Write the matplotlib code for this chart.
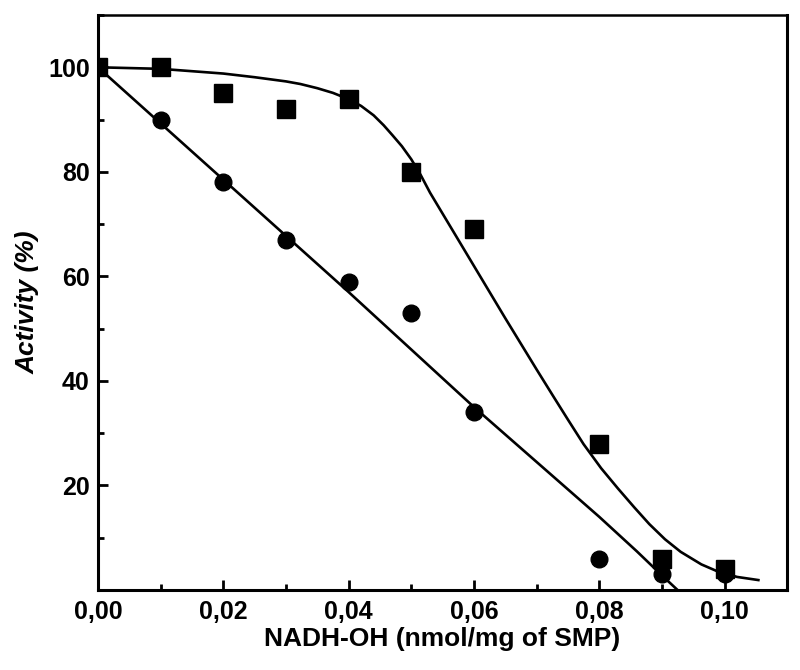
import matplotlib.pyplot as plt
from matplotlib.ticker import MultipleLocator, FuncFormatter

plt.rcParams["font.family"] = ["Liberation Sans", "DejaVu Sans"]
plt.rcParams["font.weight"] = "bold"

# measured points
conc = [0.0, 0.01, 0.02, 0.03, 0.04, 0.05, 0.06, 0.08, 0.09, 0.10]
act_squares = [100, 100, 95, 92, 94, 80, 69, 28, 6, 4]
act_circles = [100, 90, 78, 67, 59, 53, 34, 6, 3, 3]

# fitted curves
fit_sq_x = [0.0, 0.01, 0.02, 0.025, 0.03, 0.0323, 0.035, 0.0375, 0.04, 0.042,
            0.044, 0.0456, 0.047, 0.0485, 0.05, 0.0515, 0.053, 0.056, 0.06,
            0.065, 0.07, 0.0728, 0.075, 0.0775, 0.0803, 0.083, 0.0856, 0.088,
            0.0905, 0.093, 0.0963, 0.099, 0.102, 0.1054]
fit_sq_y = [100, 99.7, 98.8, 98.1, 97.3, 96.8, 96.0, 95.1, 93.9, 92.6,
            90.8, 88.9, 87.0, 84.9, 82.4, 79.4, 76.0, 70.0, 62.0,
            52.0, 42.2, 36.8, 32.6, 27.9, 23.3, 19.4, 15.8, 12.6,
            9.7, 7.3, 4.9, 3.5, 2.5, 1.9]
fit_ci_x = [0.0, 0.02, 0.04, 0.06, 0.07, 0.08, 0.086, 0.09, 0.0925]
fit_ci_y = [100, 78.5, 57.0, 35.0, 24.5, 14.0, 7.4, 2.8, 0.0]

fig = plt.figure(figsize=(8, 6.7), dpi=100)
ax = fig.add_axes([0.1225, 0.1194, 0.8615, 0.8582])

ax.plot(fit_sq_x, fit_sq_y, "-", color="black", lw=1.9, zorder=2)
ax.plot(fit_ci_x, fit_ci_y, "-", color="black", lw=1.9, zorder=2)
ax.plot(conc, act_squares, "s", color="black", ms=13, zorder=3)
ax.plot(conc, act_circles, "o", color="black", ms=12, zorder=3)

ax.set_xlim(0, 0.110)
ax.set_ylim(0, 110)
ax.xaxis.set_major_locator(MultipleLocator(0.02))
ax.xaxis.set_minor_locator(MultipleLocator(0.01))
ax.yaxis.set_major_locator(MultipleLocator(20))
ax.yaxis.set_minor_locator(MultipleLocator(10))
ax.xaxis.set_major_formatter(FuncFormatter(lambda v, p: f"{v:.2f}".replace(".", ",")))
ax.yaxis.set_major_formatter(FuncFormatter(lambda v, p: "" if v < 1 or v > 101 else f"{v:.0f}"))

ax.tick_params(which="both", direction="in", top=False, right=False, width=2,
               labelsize=18)
ax.tick_params(axis="x", pad=7)
ax.tick_params(axis="y", pad=6)
ax.tick_params(which="major", length=7)
ax.tick_params(which="minor", length=4)
for lbl in ax.get_xticklabels() + ax.get_yticklabels():
    lbl.set_fontweight("bold")

for side in ["left", "bottom", "right"]:
    ax.spines[side].set_linewidth(2.2)
ax.spines["top"].set_linewidth(1.8)

ax.set_xlabel("NADH-OH (nmol/mg of SMP)", fontsize=19, fontweight="bold", labelpad=2)
ax.set_ylabel("Activity (%)", fontsize=19, fontweight="bold", style="italic", labelpad=6)

fig.savefig("out.png", dpi=100)
